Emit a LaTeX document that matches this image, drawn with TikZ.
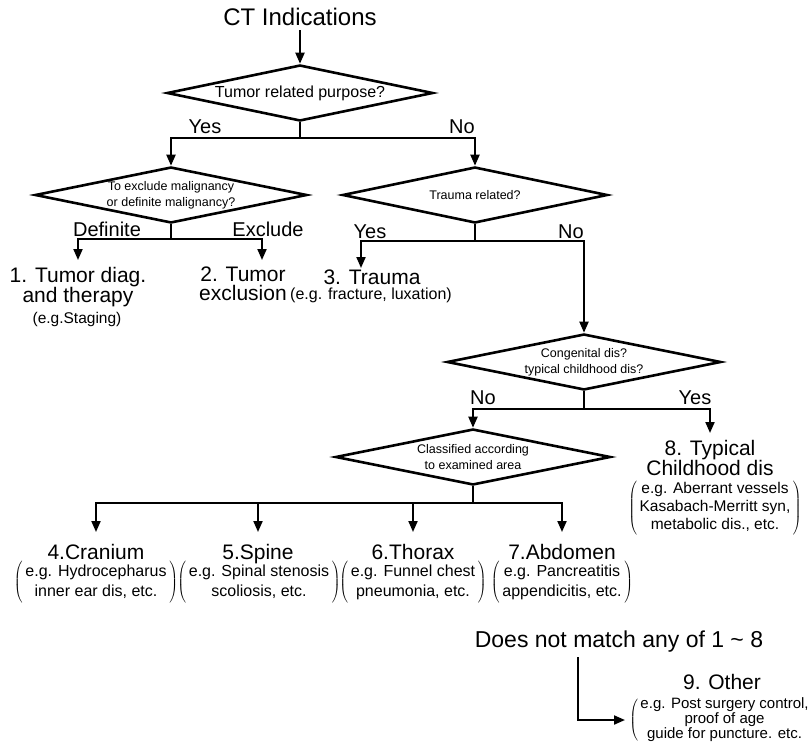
\documentclass[tikz,border=0pt]{standalone}
\usepackage{fontspec}
\setmainfont{Liberation Sans}
\usetikzlibrary{shapes.geometric,arrows.meta}

\newcommand{\fs}[2]{\fontsize{#1}{#2}\selectfont}
\newcommand{\egbox}[1]{$\left(\,\begin{tabular}{@{}c@{}}#1\end{tabular}\,\right)$}

\begin{document}
\begin{tikzpicture}[
    x=1pt,
    y=-1pt,
    >={Triangle[length=11pt,width=9pt]},
    line width=2pt,
    decision/.style={draw,shape=diamond,line width=2.6pt,inner sep=0pt,
        aspect=4.8,minimum height=56pt,align=center,font=\fs{12.5}{16}},
    answer/.style={font=\fs{20}{24}},
    result/.style={anchor=north,align=center,font=\fs{21}{19},
        inner xsep=0pt,inner ysep=7pt,outer sep=0pt},
    example/.style={font=\fs{16}{20}}
]
    \useasboundingbox (0,0) rectangle (811,747);

    % Tumor question
    \node[font=\fs{24}{28}] (title) at (300,17) {CT Indications};
    \node[decision,minimum width=266pt,font=\fs{16}{18}] (tumorQ) at (300,93)
        {Tumor related purpose?};
    \draw[->] (title.south) -- (tumorQ.north);
    \node[decision,minimum width=272pt] (malQ) at (171,195)
        {To exclude malignancy\\or definite malignancy?};
    \node[decision,minimum width=265pt] (traumaQ) at (475,195) {Trauma related?};
    \coordinate (tumorFork) at (300,138);
    \draw (tumorQ.south) -- (tumorFork);
    \draw[->] (tumorFork) -| (malQ.north);
    \draw[->] (tumorFork) -| (traumaQ.north);
    \node[answer] (tumorYes) at (205,127) {Yes};
    \node[answer] (tumorNo) at (462,127) {No};

    % Malignancy
    \node[result] (out1) at (78,260) {1. Tumor diag.\\and therapy};
    \node[example,font=\fs{15.5}{18}] (ex1) at (77,319) {(e.g.Staging)};
    \node[result] (out2) at (243,260) {2. Tumor\\exclusion};
    \coordinate (malFork) at (171,239);
    \draw (malQ.south) -- (malFork);
    \draw[->] (malFork) -| (out1.north);
    \draw[->] (malFork) -| ([xshift=19pt]out2.north);
    \node[answer] (malDef) at (107,229) {Definite};
    \node[answer] (malExc) at (268,229) {Exclude};

    % Trauma
    \node[result,inner ysep=1.5pt] (out3) at (372,268) {3. Trauma};
    \node[example] (ex3) at (371,295) {(e.g. fracture, luxation)};
    \node[decision,minimum width=274pt] (congQ) at (584,362)
        {Congenital dis?\\typical childhood dis?};
    \coordinate (traumaFork) at (475,241);
    \draw (traumaQ.south) -- (traumaFork);
    \draw[->] (traumaFork) -| ([xshift=-11pt]out3.north);
    \draw[->] (traumaFork) -| (congQ.north);
    \node[answer] (traumaYes) at (370,232) {Yes};
    \node[answer] (traumaNo) at (571,232) {No};

    % Childhood
    \node[decision,minimum width=275pt] (areaQ) at (473,457)
        {Classified according\\to examined area};
    \node[result] (out8) at (710,433) {8. Typical\\Childhood dis};
    \node[example,font=\fs{15.5}{18}] (ex8) at (715,508)
        {\egbox{e.g. Aberrant vessels\\Kasabach-Merritt syn,\\metabolic dis., etc.}};
    \coordinate (congFork) at (584,409);
    \draw (congQ.south) -- (congFork);
    \draw[->] (congFork) -| (areaQ.north);
    \draw[->] (congFork) -| (out8.north);
    \node[answer] (congNo) at (483,398) {No};
    \node[answer] (congYes) at (695,398) {Yes};

    % Examined area
    \node[result,inner ysep=12pt] (out4) at (96,532) {4.Cranium};
    \node[result,inner ysep=12pt] (out5) at (258,532) {5.Spine};
    \node[result,inner ysep=12pt] (out6) at (413,532) {6.Thorax};
    \node[result,inner ysep=12pt] (out7) at (562,532) {7.Abdomen};
    \node[example] (ex4) at (96,582) {\egbox{e.g. Hydrocepharus\\inner ear dis, etc.}};
    \node[example] (ex5) at (259,582) {\egbox{e.g. Spinal stenosis\\scoliosis, etc.}};
    \node[example] (ex6) at (413,582) {\egbox{e.g. Funnel chest\\pneumonia, etc.}};
    \node[example] (ex7) at (562,582) {\egbox{e.g. Pancreatitis\\appendicitis, etc.}};
    \coordinate (areaFork) at (473,503);
    \draw (areaQ.south) -- (areaFork);
    \draw[->] (areaFork) -| (out4.north);
    \draw[->] (areaFork) -| (out5.north);
    \draw[->] (areaFork) -| (out6.north);
    \draw[->] (areaFork) -| (out7.north);

    % Other
    \node[font=\fs{23}{26}] (nomatch) at (619,642)
        {Does not match any of 1 \textasciitilde{} 8};
    \node[font=\fs{21}{24}] (other9) at (722,682) {9. Other};
    \node[example,font=\fs{15}{14.5},anchor=west] (ex9) at (625,720)
        {\egbox{e.g. Post surgery control,\\proof of age\\guide for puncture. etc.}};
    \draw[->] ([xshift=-41pt]nomatch.south) |- (ex9.west);
\end{tikzpicture}
\end{document}
